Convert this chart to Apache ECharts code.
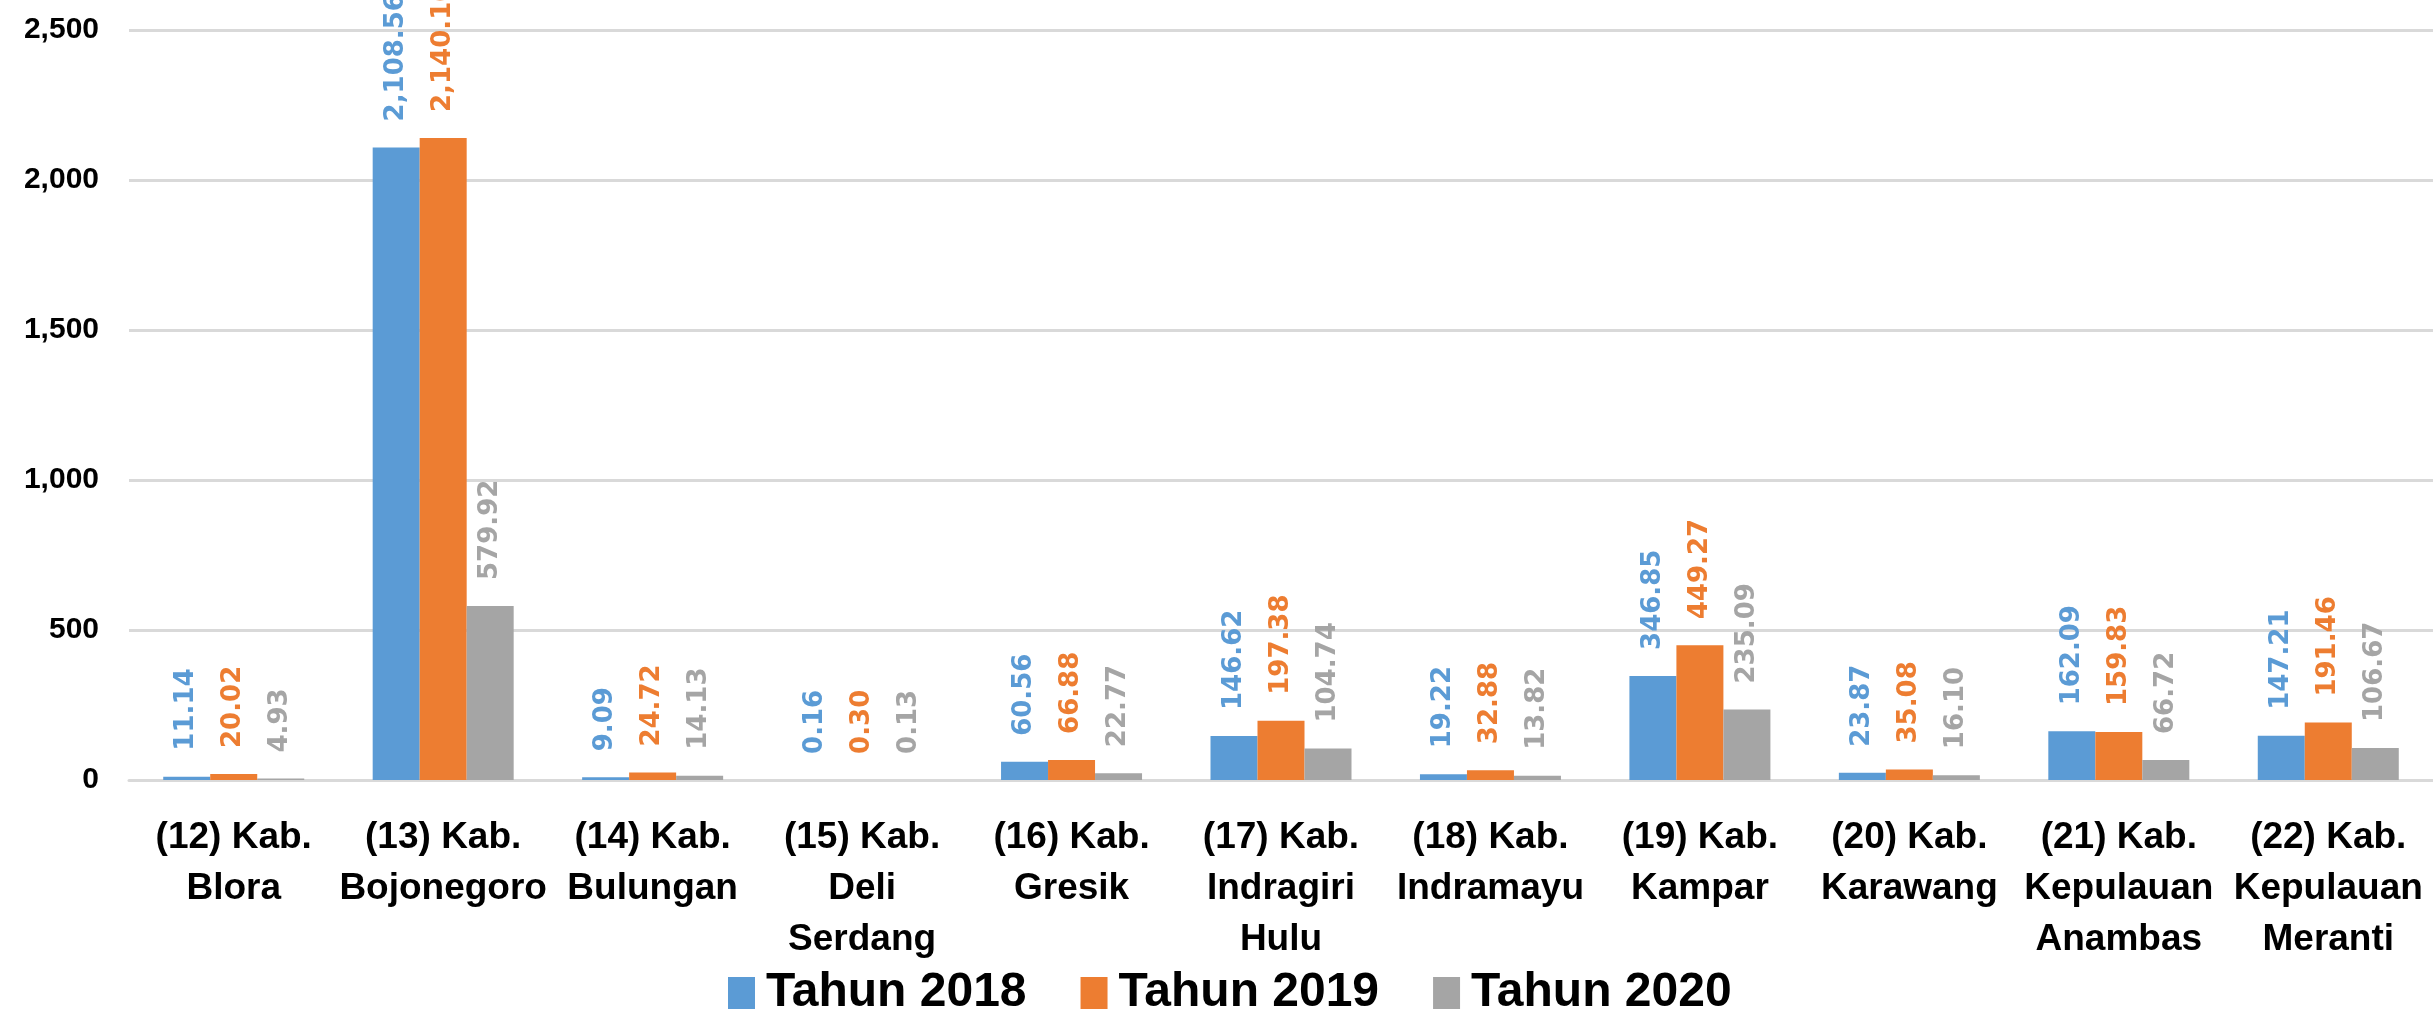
<!DOCTYPE html>
<html>
<head>
<meta charset="utf-8">
<script src="https://cdn.jsdelivr.net/npm/echarts@6/dist/echarts.min.js"></script>
<style>
  html, body { margin: 0; padding: 0; background: #fff; }
  #charts { width: 2433px; height: 1013px; }
</style>
</head>
<body>
<div id="charts"></div>
<script>
var categories = [
    '(12) Kab.\nBlora',
    '(13) Kab.\nBojonegoro',
    '(14) Kab.\nBulungan',
    '(15) Kab.\nDeli\nSerdang',
    '(16) Kab.\nGresik',
    '(17) Kab.\nIndragiri\nHulu',
    '(18) Kab.\nIndramayu',
    '(19) Kab.\nKampar',
    '(20) Kab.\nKarawang',
    '(21) Kab.\nKepulauan\nAnambas',
    '(22) Kab.\nKepulauan\nMeranti'
];
var seriesNames = ['Tahun 2018', 'Tahun 2019', 'Tahun 2020'];
var tahun2018 = [11.14, 2108.56, 9.09, 0.16, 60.56, 146.62, 19.22, 346.85, 23.87, 162.09, 147.21];
var tahun2019 = [20.02, 2140.10, 24.72, 0.30, 66.88, 197.38, 32.88, 449.27, 35.08, 159.83, 191.46];
var tahun2020 = [4.93, 579.92, 14.13, 0.13, 22.77, 104.74, 13.82, 235.09, 16.10, 66.72, 106.67];
var colors = ['#5B9BD5', '#ED7D31', '#A5A5A5'];

var textFont = "'Liberation Sans', Arial, sans-serif";

function fmt(v) {
    return v.toLocaleString('en-US', {minimumFractionDigits: 2, maximumFractionDigits: 2});
}

function makeSeries(name, data, color) {
    return {
        name: name,
        type: 'bar',
        data: data,
        barWidth: 47,
        barGap: '0%',
        itemStyle: { color: color },
        label: {
            show: true,
            position: 'top',
            rotate: 90,
            align: 'left',
            verticalAlign: 'middle',
            distance: 26,
            color: color,
            fontFamily: "'DejaVu Sans'",
            fontWeight: 'bold',
            fontSize: 26,
            formatter: function (p) { return fmt(p.value); }
        }
    };
}

var option = {
    animation: false,
    color: colors,
    legend: {
        top: 964,
        left: 723,
        itemWidth: 27,
        itemHeight: 32,
        itemGap: 54,
        icon: 'rect',
        textStyle: {
            fontFamily: textFont,
            fontWeight: 'bold',
            fontSize: 48,
            color: '#000',
            padding: [0, 0, 0, 6]
        },
        data: seriesNames
    },
    grid: {
        left: 129,
        right: -6,
        top: 30,
        bottom: 233,
        containLabel: false
    },
    xAxis: {
        type: 'category',
        data: categories,
        axisTick: { show: false },
        axisLine: { lineStyle: { color: '#D9D9D9', width: 3 } },
        axisLabel: {
            interval: 0,
            margin: 32,
            lineHeight: 51,
            color: '#000',
            fontFamily: textFont,
            fontWeight: 'bold',
            fontSize: 37
        }
    },
    yAxis: {
        type: 'value',
        min: 0,
        max: 2500,
        interval: 500,
        axisLine: { show: false },
        axisTick: { show: false },
        splitLine: { lineStyle: { color: '#D9D9D9', width: 3 } },
        axisLabel: {
            margin: 30,
            color: '#000',
            fontFamily: textFont,
            fontWeight: 'bold',
            fontSize: 30,
            formatter: function (v) { return v.toLocaleString('en-US'); }
        }
    },
    series: [
        makeSeries(seriesNames[0], tahun2018, colors[0]),
        makeSeries(seriesNames[1], tahun2019, colors[1]),
        makeSeries(seriesNames[2], tahun2020, colors[2])
    ]
};

var myChart = echarts.init(document.getElementById('charts'));
myChart.setOption(option);
</script>
</body>
</html>
